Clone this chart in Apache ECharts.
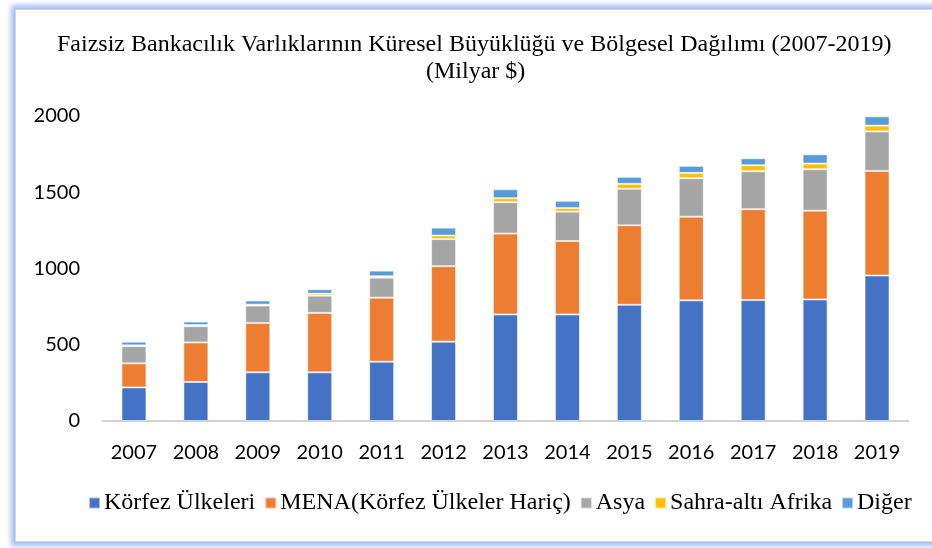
<!DOCTYPE html>
<html>
<head>
<meta charset="utf-8">
<script src="https://cdn.jsdelivr.net/npm/echarts@6/dist/echarts.min.js"></script>
<style>
html, body { margin: 0; padding: 0; background: #ffffff; overflow: hidden; }
.frame {
    position: absolute;
    left: 15px; top: 9px;
    width: 940px; height: 531px;
    border: 1px solid #d4d4d4;
    box-shadow: 0 0 5px 4px rgba(130, 170, 240, 0.75);
    background: #ffffff;
}
#chart { position: absolute; left: 0; top: 0; width: 932px; height: 548px; }
</style>
</head>
<body>
<div class="frame"></div>
<div id="chart"></div>
<script>
// data (Milyar $)
var years = ['2007', '2008', '2009', '2010', '2011', '2012', '2013', '2014', '2015', '2016', '2017', '2018', '2019'];
var korfez = [220, 256, 319, 319, 389, 520, 699, 699, 762, 791, 793, 797, 954];
var mena = [158, 259, 323, 390, 420, 495, 530, 481, 521, 549, 596, 582, 686];
var asya = [113, 107, 115, 113, 131, 178, 206, 193, 240, 252, 249, 272, 259];
var sahra = [5, 7, 6, 13, 9, 23, 26, 23, 32, 35, 39, 37, 38];
var diger = [24, 23, 27, 29, 37, 52, 59, 48, 46, 46, 46, 61, 61];

var seriesNames = ['Körfez Ülkeleri', 'MENA(Körfez Ülkeler Hariç)', 'Asya', 'Sahra-altı Afrika', 'Diğer'];
var seriesData = [korfez, mena, asya, sahra, diger];
var colors = ['#4472C4', '#ED7D31', '#A5A5A5', '#FFC000', '#5B9BD5'];

var serif = '"Liberation Serif", "Times New Roman", serif';
var sans = 'Lato, "Liberation Sans", sans-serif';

var titleStyle = {
    fontFamily: serif,
    fontSize: 24,
    fontWeight: 'normal',
    color: '#000',
    lineHeight: 27
};

var chart = echarts.init(document.getElementById('chart'));

chart.setOption({
    animation: false,
    color: colors,
    title: [{
        text: 'Faizsiz Bankacılık Varlıklarının Küresel Büyüklüğü ve Bölgesel Dağılımı (2007-2019)',
        left: 57,
        top: 31,
        padding: 0,
        textStyle: titleStyle
    }, {
        text: '(Milyar $)',
        left: 426,
        top: 58,
        padding: 0,
        textStyle: titleStyle
    }],
    legend: {
        data: seriesNames,
        left: 88,
        top: 491,
        padding: 0,
        itemWidth: 11,
        itemHeight: 11,
        itemGap: 9,
        icon: 'rect',
        textStyle: { fontFamily: serif, fontSize: 24, color: '#000', padding: [0, 0, 0, -1] }
    },
    grid: { left: 103, right: 24, top: 116, bottom: 127 },
    xAxis: {
        type: 'category',
        data: years,
        axisLine: { lineStyle: { color: '#d0d0d0', width: 2 } },
        axisTick: { show: false },
        axisLabel: { fontFamily: sans, fontSize: 20, color: '#000', margin: 22 }
    },
    yAxis: {
        type: 'value',
        min: 0,
        max: 2000,
        interval: 500,
        axisLine: { show: false },
        axisTick: { show: false },
        splitLine: { show: false },
        axisLabel: {
            fontFamily: sans, fontSize: 20, color: '#000', margin: 23,
            formatter: function (v) { return String(v); }
        }
    },
    series: seriesData.map(function (values, i) {
        return {
            name: seriesNames[i],
            type: 'bar',
            stack: 'total',
            barWidth: 25,
            data: values,
            itemStyle: { borderColor: 'rgba(255,255,255,0.55)', borderWidth: 1 }
        };
    })
});
</script>
</body>
</html>
